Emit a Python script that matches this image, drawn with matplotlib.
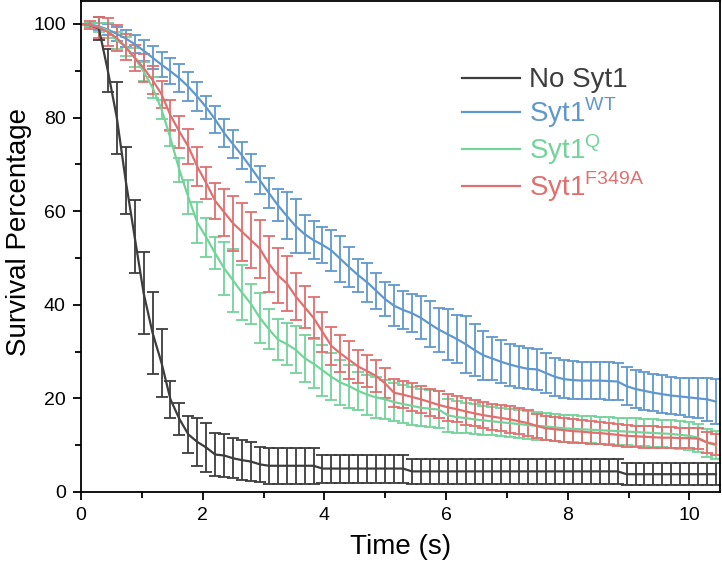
import numpy as np
import matplotlib
matplotlib.use("Agg")
import matplotlib.pyplot as plt

plt.rcParams['font.family'] = ['Liberation Sans', 'DejaVu Sans']
plt.rcParams['mathtext.fontset'] = 'custom'
plt.rcParams['mathtext.rm'] = 'Liberation Sans'

# sampling interval of the time series (s)
dt = 0.147
n_points = 72

no_syt1 = [100, 99.8, 99.0, 90.0, 80.0, 66.5, 54.5, 42.5, 34.0, 27.6,
           19.8, 15.6, 12.3, 10.7, 9.5, 8.0, 7.8, 7.2, 6.8, 6.5,
           5.9, 5.6, 5.6, 5.6, 5.6, 5.6, 5.6, 5.0, 5.0, 5.0,
           5.0, 5.0, 5.0, 5.0, 5.0, 5.0, 5.0, 4.4, 4.4, 4.4,
           4.4, 4.4, 4.4, 4.4, 4.4, 4.4, 4.4, 4.4, 4.4, 4.4,
           4.4, 4.4, 4.4, 4.4, 4.4, 4.4, 4.4, 4.4, 4.4, 4.4,
           4.4, 3.8, 3.8, 3.8, 3.8, 3.8, 3.8, 3.8, 3.8, 3.8,
           3.8, 3.8]
no_syt1_err = [0, 0.5, 2.5, 4.6, 7.7, 7.2, 7.8, 8.8, 8.7, 7.2,
               3.9, 3.4, 4.0, 5.2, 5.2, 4.6, 4.6, 4.3, 4.2, 4.2,
               3.8, 3.8, 3.8, 3.8, 3.8, 3.8, 3.8, 3.0, 3.0, 3.0,
               3.0, 3.0, 3.0, 3.0, 3.0, 3.0, 3.0, 2.7, 2.7, 2.7,
               2.7, 2.7, 2.7, 2.7, 2.7, 2.7, 2.7, 2.7, 2.7, 2.7,
               2.7, 2.7, 2.7, 2.7, 2.7, 2.7, 2.7, 2.7, 2.7, 2.7,
               2.7, 2.4, 2.4, 2.4, 2.4, 2.4, 2.4, 2.4, 2.4, 2.4,
               2.4, 2.4]

syt1_wt = [100, 99.9, 99.5, 98.8, 97.9, 96.9, 95.7, 94.3, 92.8, 91.3,
           89.9, 88.4, 86.6, 84.5, 82.2, 79.6, 76.7, 74.3, 71.9, 69.3,
           66.6, 63.9, 61.3, 59.0, 56.8, 55.1, 53.8, 52.8, 51.6, 49.8,
           48.0, 46.3, 44.8, 43.0, 41.2, 39.8, 38.9, 38.2, 37.2, 35.9,
           34.7, 33.7, 32.7, 31.6, 30.3, 29.2, 28.5, 27.8, 27.2, 26.7,
           26.3, 26.2, 25.4, 24.6, 24.1, 23.9, 23.8, 23.8, 23.8, 23.7,
           23.6, 22.6, 22.0, 21.6, 21.2, 20.9, 20.6, 20.4, 20.2, 20.0,
           19.8, 19.3]
syt1_wt_err = [0, 0.3, 0.8, 1.2, 1.5, 1.8, 2.0, 2.3, 2.5, 2.7,
               2.8, 3.0, 3.1, 3.2, 2.5, 2.8, 3.0, 3.0, 2.8, 3.0,
               3.0, 3.2, 3.5, 5.0, 5.8, 4.1, 4.0, 3.8, 4.4, 5.0,
               4.3, 3.5, 4.2, 3.8, 3.7, 4.4, 4.1, 4.0, 4.6, 5.0,
               4.7, 5.4, 5.2, 6.1, 5.5, 5.2, 4.6, 4.6, 4.5, 4.4,
               4.4, 4.4, 4.2, 4.1, 4.0, 4.0, 4.0, 4.0, 4.0, 4.0,
               4.0, 4.0, 4.0, 4.0, 4.0, 4.0, 4.0, 4.0, 4.2, 4.3,
               4.6, 4.8]

syt1_q = [100, 99.8, 99.3, 98.6, 96.5, 95.2, 92.8, 89.8, 86.4, 81.8,
          75.6, 68.8, 63.0, 57.6, 54.4, 51.0, 47.8, 45.2, 42.6, 40.2,
          37.2, 34.8, 32.6, 31.6, 30.4, 28.6, 27.4, 26.0, 24.6, 23.4,
          22.6, 21.6, 20.8, 20.2, 19.8, 19.2, 18.8, 18.4, 18.0, 17.8,
          17.6, 16.4, 16.0, 15.8, 15.5, 15.3, 15.1, 14.9, 14.7, 14.5,
          14.3, 14.1, 14.0, 13.8, 13.6, 13.5, 13.4, 13.3, 13.2, 13.1,
          13.0, 12.9, 12.8, 12.7, 12.6, 12.5, 12.4, 12.2, 12.0, 11.6,
          10.5, 10.0]
syt1_q_err = [0, 0.5, 1.0, 1.5, 1.8, 2.0, 2.0, 2.0, 2.2, 2.0,
              1.6, 2.5, 3.6, 4.4, 4.1, 3.4, 5.7, 6.8, 5.9, 4.3,
              5.3, 4.3, 4.4, 4.4, 5.0, 5.0, 5.2, 5.5, 5.0, 4.8,
              4.6, 4.1, 4.3, 4.3, 4.2, 4.1, 4.0, 4.0, 3.9, 3.9,
              3.9, 3.5, 3.4, 3.3, 3.2, 3.1, 3.0, 3.0, 3.0, 3.0,
              3.0, 2.9, 2.9, 2.9, 2.9, 2.9, 2.9, 2.9, 2.9, 2.9,
              2.9, 2.9, 2.9, 2.9, 2.9, 2.9, 3.0, 3.0, 3.0, 3.0,
              3.0, 3.0]

syt1_f349a = [100, 99.8, 99.2, 98.3, 97.0, 95.0, 92.8, 90.6, 88.0, 85.0,
              80.5, 77.0, 73.8, 69.5, 66.0, 62.2, 59.8, 57.4, 55.6, 53.8,
              52.0, 48.8, 46.3, 44.6, 41.8, 39.5, 37.2, 34.2, 31.2, 29.6,
              28.2, 26.8, 25.8, 24.8, 23.2, 21.2, 20.8, 20.3, 19.8, 19.2,
              18.6, 18.1, 17.7, 17.2, 16.8, 16.4, 16.1, 15.8, 15.5, 15.1,
              14.7, 14.1, 13.6, 13.4, 13.2, 13.0, 12.9, 12.7, 12.6, 12.4,
              12.2, 12.0, 11.9, 11.8, 11.7, 11.6, 11.6, 11.5, 11.5, 11.4,
              10.6, 10.2]
syt1_f349a_err = [0, 0.8, 2.3, 3.0, 2.8, 2.8, 2.8, 3.0, 3.0, 2.9,
                  3.2, 3.4, 3.8, 4.2, 3.5, 3.9, 5.0, 5.9, 6.2, 6.0,
                  6.2, 6.0, 5.9, 5.9, 5.0, 4.5, 4.4, 4.2, 4.1, 3.9,
                  4.1, 3.6, 3.4, 3.4, 3.2, 3.0, 2.9, 2.9, 2.9, 2.9,
                  2.9, 2.9, 2.8, 2.8, 2.8, 2.8, 2.8, 2.8, 2.8, 2.8,
                  2.8, 2.6, 2.6, 2.6, 2.5, 2.5, 2.5, 2.4, 2.4, 2.4,
                  2.4, 2.3, 2.3, 2.3, 2.3, 2.2, 2.2, 2.2, 2.2, 2.2,
                  2.2, 2.2]

labels = ['No Syt1', r'Syt1$^{\mathregular{WT}}$', r'Syt1$^{\mathregular{Q}}$',
          r'Syt1$^{\mathregular{F349A}}$']
colors = ['#3d3d3d', '#6098cd', '#74d39a', '#e07070']

series = [(no_syt1, no_syt1_err), (syt1_wt, syt1_wt_err),
          (syt1_q, syt1_q_err), (syt1_f349a, syt1_f349a_err)]

time = np.arange(n_points) * dt

fig = plt.figure(figsize=(7.22, 5.62), dpi=100)
ax = fig.add_axes([0.1122, 0.1246, 0.8848, 0.8744])

handles = []
for (vals, errs), c, lab in zip(series, colors, labels):
    eb = ax.errorbar(time, vals, yerr=errs, color=c, lw=1.6, elinewidth=1.3,
                     capsize=4.5, capthick=1.3, label=lab)
    handles.append(eb.lines[0])

ax.set_xlim(0, 10.5)
ax.set_ylim(0, 105)
ax.set_xticks([0, 2, 4, 6, 8, 10])
ax.set_xticks([1, 3, 5, 7, 9], minor=True)
ax.set_yticks([0, 20, 40, 60, 80, 100])
ax.set_yticks([10, 30, 50, 70, 90], minor=True)
ax.tick_params(which='major', direction='out', length=6, width=1.3, labelsize=14, pad=5)
ax.tick_params(which='minor', direction='out', length=4, width=1.3)
for s in ax.spines.values():
    s.set_linewidth(1.3)

ax.set_xlabel('Time (s)', fontsize=20, labelpad=7)
ax.set_ylabel('Survival Percentage', fontsize=20)
ax.yaxis.set_label_coords(-0.076, 0.53)

leg = fig.legend(handles, labels, loc='upper left', bbox_to_anchor=(0.64, 0.88),
                 frameon=False, fontsize=20, handlelength=2.1, handletextpad=0.3,
                 labelspacing=0.08, borderaxespad=0, borderpad=0)
for txt, c in zip(leg.get_texts(), colors):
    txt.set_color(c)
for line in leg.get_lines():
    line.set_linewidth(1.6)

fig.savefig('out.png', dpi=100)
